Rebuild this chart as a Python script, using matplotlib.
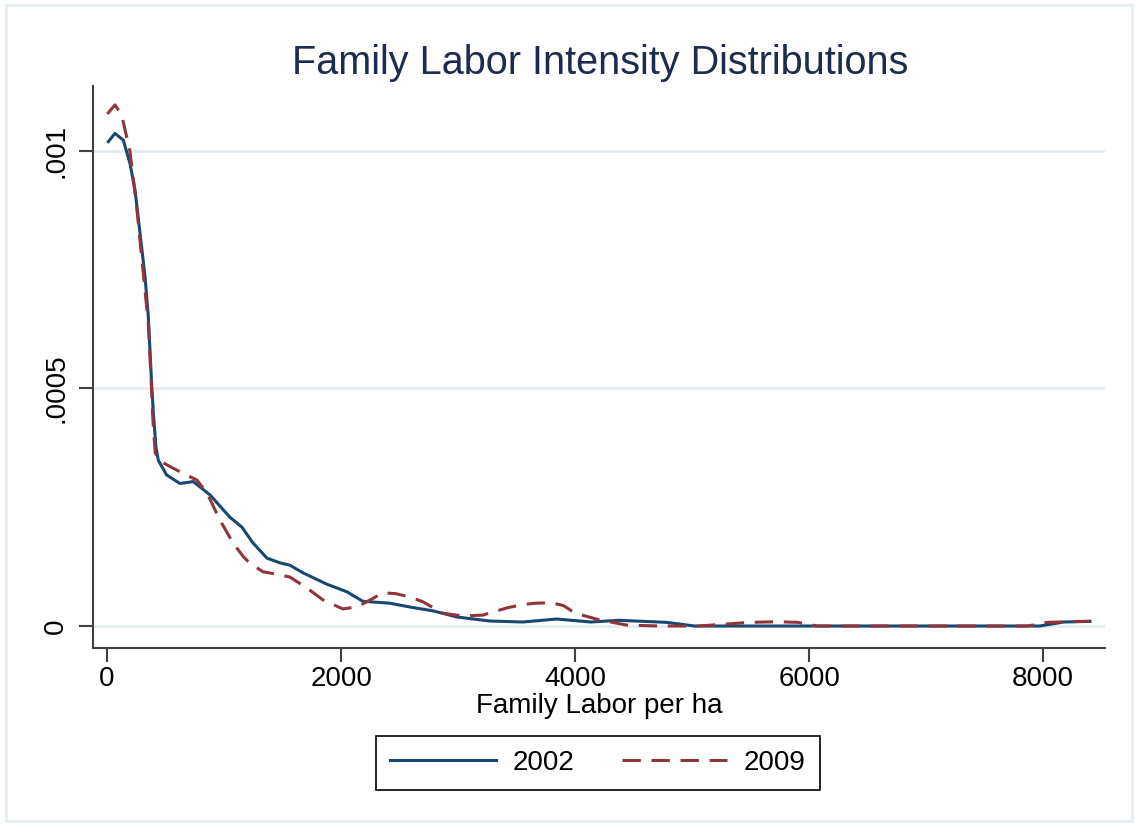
import matplotlib
matplotlib.use("Agg")
import matplotlib.pyplot as plt
from matplotlib.patches import Rectangle

plt.rcParams['font.family'] = ['Liberation Sans', 'DejaVu Sans']

# Kernel density values
x_2002 = [11, 68, 139, 196, 239, 282, 325, 353, 381, 396, 418, 438, 509, 623, 737,
          880, 1050, 1153, 1247, 1366, 1477, 1563, 1674, 1879, 2050, 2186, 2417,
          2587, 2784, 2989, 3271, 3553, 3843, 4136, 4373, 4781, 5019, 6000, 7000,
          7971, 8175, 8400]
y_2002 = [1019.6, 1037, 1023, 974, 918, 827, 735, 651, 511, 448, 377, 349, 318, 300,
          304, 276, 229, 208, 175, 143, 133, 128, 112, 88, 72, 52, 48, 40, 32, 19,
          10.5, 8.4, 14.7, 8.4, 12, 7.7, 0, 0, 0, 0, 8.4, 9.8]

x_2009 = [3, 68, 125, 196, 253, 296, 353, 378, 392, 412, 450, 520, 598, 680, 769,
          854, 965, 1076, 1165, 1221, 1334, 1452, 1563, 1708, 1845, 2015, 2135,
          2250, 2357, 2470, 2587, 2699, 2870, 3040, 3211, 3416, 3550, 3662, 3798,
          3900, 4001, 4205, 4441, 4714, 5053, 5257, 5494, 5731, 5901, 6071, 7000,
          7869, 8039, 8209, 8400]
y_2009 = [1078, 1097, 1076, 999, 883, 777, 637, 511, 434, 364, 348, 338, 328, 318,
          307, 280, 223, 175, 146, 132, 114, 109, 103, 80, 55, 36, 40, 55, 70, 68,
          61, 51, 27, 21, 23, 38, 45, 48, 49, 43, 27, 13, 2, 0, 0, 3.5, 7.7, 9, 7.7,
          0, 0, 0, 7.7, 9.1, 10]

y_2002 = [v * 1e-6 for v in y_2002]
y_2009 = [v * 1e-6 for v in y_2009]

x_ticks = [0, 2000, 4000, 6000, 8000]
y_ticks = [0, 0.0005, 0.001]
y_tick_labels = ['0', '.0005', '.001']

fig = plt.figure(figsize=(11.38, 8.26), dpi=100)
ax = fig.add_axes([0.0817, 0.2155, 0.8895, 0.6805])

# Light outer frame like the Stata graph region
fig.patches.append(Rectangle((0.005, 0.006), 0.99, 0.988, transform=fig.transFigure,
                             fill=False, edgecolor='#e6eef2', linewidth=2))

ax.plot(x_2002, y_2002, color='#1a476f', linewidth=2.2, label='2002')
ax.plot(x_2009, y_2009, color='#90353b', linewidth=2.2, dashes=(6, 3.5), label='2009')

ax.set_xlim(-120, 8530)
ax.set_ylim(-0.0000463, 0.001137)
ax.set_xticks(x_ticks)
ax.set_yticks(y_ticks)
ax.set_yticklabels(y_tick_labels, rotation=90, va='center')

ax.grid(axis='y', color='#e3ecf0', linewidth=2)
ax.set_axisbelow(True)
for side in ['top', 'right']:
    ax.spines[side].set_visible(False)
for side in ['left', 'bottom']:
    ax.spines[side].set_color('#404040')
    ax.spines[side].set_linewidth(1.5)
ax.tick_params(length=10, width=1.5, color='#404040', labelsize=20)
ax.tick_params(axis='x', pad=3)
ax.tick_params(axis='y', pad=7)

ax.set_xlabel('Family Labor per ha', fontsize=20, labelpad=1)
fig.suptitle('Family Labor Intensity Distributions', fontsize=28.5, color='#1c2b4f',
             x=0.527, y=0.947)

fig.legend(loc='center', bbox_to_anchor=(0.5255, 0.0763), ncol=2, fontsize=20,
           frameon=True, fancybox=False, edgecolor='black', framealpha=1,
           handlelength=3.8, handletextpad=0.6, columnspacing=1.7, borderpad=0.5)
fig.legends[0].get_frame().set_linewidth(1.2)

fig.savefig('out.png', dpi=100)
